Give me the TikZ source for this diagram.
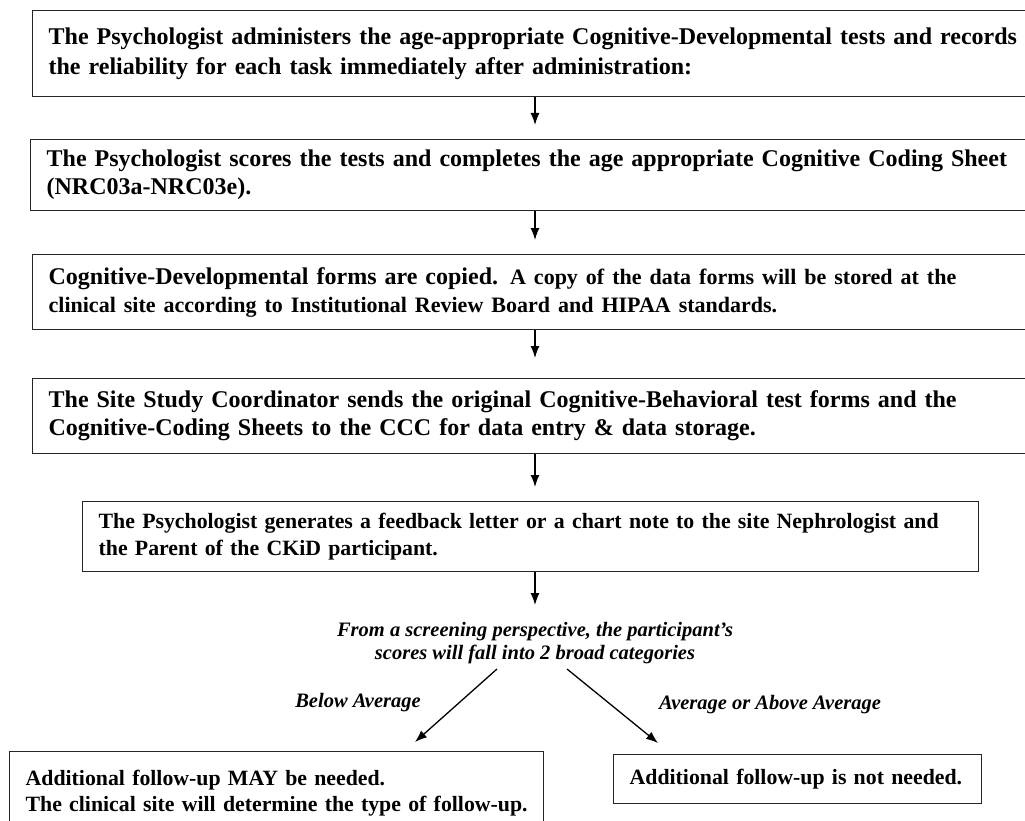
\documentclass[tikz,border=0pt]{standalone}
\usepackage{fontspec}
\setmainfont{Liberation Serif}
\usetikzlibrary{arrows.meta,calc}
\begin{document}
\begin{tikzpicture}[x=1pt,y=1pt,
  stepbox/.style={draw=black!85, line width=1.3pt, anchor=north west,
    inner xsep=16pt, inner ysep=0pt, align=left,
    font=\bfseries\fontsize{24}{28}\selectfont},
  smallbox/.style={stepbox, font=\bfseries\fontsize{21.8}{27}\selectfont},
  endbox/.style={stepbox, font=\bfseries\fontsize{21.8}{26}\selectfont},
  flow/.style={-{Latex[length=12pt,width=9pt]}, line width=1.3pt},
  note/.style={font=\bfseries\itshape\fontsize{20.5}{23}\selectfont, align=center, inner sep=0pt}]
\useasboundingbox (0,0) rectangle (1025,-821);
\clip (0,0) rectangle (1025,-821);
\fill[white] (0,0) rectangle (1025,-821);

% main sequence of steps
\node[stepbox, minimum width=1003pt, text width=971pt, minimum height=86pt,
      font=\bfseries\fontsize{24}{30}\selectfont] (b1) at (32,-10)
  {The Psychologist administers the age-appropriate Cognitive-Developmental tests and records\\
   the reliability for each task immediately after administration:};
\node[stepbox, minimum width=1005pt, text width=973pt, minimum height=71pt] (b2) at (30,-139)
  {The Psychologist scores the tests and completes the age appropriate Cognitive Coding Sheet\\
   (NRC03a-NRC03e).};
\node[stepbox, minimum width=1003pt, text width=971pt, minimum height=75pt] (b3) at (32,-254)
  {Cognitive-Developmental forms are copied. {\fontsize{22}{28}\selectfont A copy of the data forms will be stored at the}\\
   {\fontsize{22}{28}\selectfont clinical site according to Institutional Review Board and HIPAA standards.}};
\node[stepbox, minimum width=1003pt, text width=971pt, minimum height=75pt] (b4) at (32,-378)
  {The Site Study Coordinator sends the original Cognitive-Behavioral test forms and the\\
   Cognitive-Coding Sheets to the CCC for data entry \& data storage.};
\node[smallbox, minimum width=896pt, text width=864pt, minimum height=70pt] (b5) at (82,-501)
  {The Psychologist generates a feedback letter or a chart note to the site Nephrologist and\\
   the Parent of the CKiD participant.};

% decision text
\node[note] (cat) at (535,-643)
  {From a screening perspective, the participant’s\\scores will fall into 2 broad categories};
\node[note] (lo) at (358,-703) {Below Average};
\node[note] (hi) at (770,-705) {Average or Above Average};

% outcomes
\node[endbox, minimum width=534pt, text width=502pt, minimum height=84pt] (b6) at (9,-751)
  {Additional follow-up MAY be needed.\\
   The clinical site will determine the type of follow-up.};
\node[endbox, minimum width=368pt, text width=336pt, minimum height=49pt] (b7) at (613,-754)
  {Additional follow-up is not needed.};

% connectors
\coordinate (ax) at (535,0);
\draw[flow] (b1.south -| ax) -- ($(b2.north -| ax)+(0,14)$);
\draw[flow] (b2.south -| ax) -- ($(b3.north -| ax)+(0,14)$);
\draw[flow] (b3.south -| ax) -- ($(b4.north -| ax)+(0,20)$);
\draw[flow] (b4.south -| ax) -- ($(b5.north -| ax)+(0,14)$);
\draw[flow] (b5.south -| ax) -- ($(cat.north -| ax)+(0,17)$);

\coordinate (ls) at (497,-669);
\coordinate (rs) at (567,-669);
\coordinate (lt) at (415,-742);
\coordinate (rt) at (658,-743);
\draw[flow] (ls) -- (lt);
\draw[flow] (rs) -- (rt);
\end{tikzpicture}
\end{document}
